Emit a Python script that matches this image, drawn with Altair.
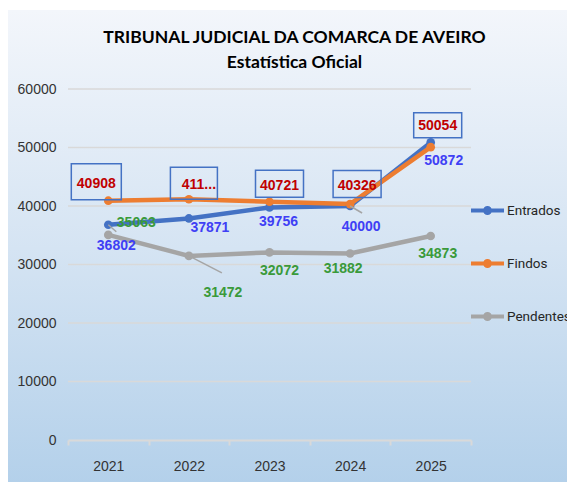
import altair as alt
import pandas as pd

# ---------------- data ----------------
YEARS = ["2021", "2022", "2023", "2024", "2025"]
SERIES = ["Entrados", "Findos", "Pendentes"]
ENTRADOS = [36802, 37871, 39756, 40000, 50872]
FINDOS = [40908, 41150, 40721, 40326, 50054]
PENDENTES = [35063, 31472, 32072, 31882, 34873]
FINDOS_TEXT = ["40908", "411...", "40721", "40326", "50054"]
Y_TICKS = [0, 10000, 20000, 30000, 40000, 50000, 60000]

# ---------------- styles ----------------
LINE_COLORS = ["#4472C4", "#ED7D31", "#A5A5A5"]
LABEL_COLORS = {"Entrados": "#3F3FF5", "Findos": "#C00000", "Pendentes": "#3A9A3A"}
BOX_COLOR = "#4472C4"
FONT = "Liberation Sans"
LEGEND_FONT = "Roboto"
TITLE_FONT = "Lato"

# label offsets (pixels) relative to each point
LABEL_OFFSETS = {
    "Entrados": [(8, 21), (21, 10), (9, 15), (11, 21), (13, 19)],
    "Findos": [(-12, -17), (10, -14), (10, -16), (7, -18), (7, -21)],
    "Pendentes": [(28, -12), (34, 37), (10, 19), (-7, 16), (7, 18)],
}
# boxes around Findos labels: dx, dy, w, h
BOXES = [(-12, -19, 50, 36), (5, -16, 47, 32), (10, -18, 48, 27), (7, -20, 48, 27), (7, -22, 48, 25)]
# leader lines: series, year index, dx, dy
LEADERS = [("Pendentes", 1, 33, 17), ("Entrados", 3, 12, 7), ("Entrados", 0, 8, 7)]

VALUES = {"Entrados": ENTRADOS, "Findos": FINDOS, "Pendentes": PENDENTES}
rows = []
for s in SERIES:
    for i, y in enumerate(YEARS):
        txt = FINDOS_TEXT[i] if s == "Findos" else str(VALUES[s][i])
        rows.append({"series": s, "year": y, "value": VALUES[s][i], "label": txt, "idx": i})
df = pd.DataFrame(rows)
grid_df = pd.DataFrame({"value": Y_TICKS})

W, H = 403, 351

x_scale = alt.Scale(type="band", domain=YEARS, paddingInner=0, paddingOuter=0)
y_scale = alt.Scale(domain=[0, 60000], nice=False, zero=True)
color_scale = alt.Scale(domain=SERIES, range=LINE_COLORS)

legend = alt.Legend(
    title=None, orient="none", legendX=401, legendY=103, padding=0,
    rowPadding=24, labelOffset=1, labelFont=LEGEND_FONT, labelFontSize=13.5,
    labelColor="#262626",
    symbolType="M-1,0L1,0M-0.15,0A0.15,0.15 0 1,0 0.15,0A0.15,0.15 0 1,0 -0.15,0",
    symbolSize=1089, symbolStrokeWidth=4,
)

bg = alt.Chart(alt.Data(values=[{}])).mark_rect(
    color=alt.LinearGradient(
        gradient="linear", x1=0, x2=0, y1=0, y2=1,
        stops=[alt.GradientStop(color="#F3F6FB", offset=0),
               alt.GradientStop(color="#D5E4F3", offset=0.5),
               alt.GradientStop(color="#B3D0EA", offset=1)]),
).encode(x=alt.value(-61), x2=alt.value(507), y=alt.value(-79), y2=alt.value(398))

grid = alt.Chart(grid_df).transform_filter("datum.value > 0").mark_rule(
    color="#D9D9D9", strokeWidth=1.5
).encode(
    y=alt.Y("value:Q", scale=y_scale, axis=alt.Axis(
        title=None, values=Y_TICKS, format="d", grid=False, domain=False, ticks=False,
        labelFont=FONT, labelFontSize=14, labelColor="#333333", labelPadding=12, zindex=1)),
)

base = alt.Chart(df)
xenc = alt.X("year:N", scale=x_scale, axis=alt.Axis(
    title=None, labelAngle=0, domainColor="#D9D9D9", domainWidth=2,
    tickColor="#D9D9D9", tickWidth=2, tickSize=5, tickBand="extent",
    labelFont=FONT, labelFontSize=14, labelColor="#333333", labelPadding=14,
    grid=False, zindex=1))
yenc = alt.Y("value:Q", scale=y_scale)

lines = base.mark_line(strokeWidth=4.5).encode(
    x=xenc, y=yenc,
    color=alt.Color("series:N", scale=color_scale, legend=legend),
    detail="series:N",
)
points = base.mark_point(filled=True, size=75, opacity=1).encode(
    x=xenc, y=yenc,
    color=alt.Color("series:N", scale=color_scale, legend=legend),
)

layers = [bg, grid, lines, points]

for s, i, dx, dy in LEADERS:
    r = (dx * dx + dy * dy) ** 0.5
    path = f"M0,0L{dx / r:.4f},{dy / r:.4f}"
    layers.append(
        base.transform_filter(f"datum.series == '{s}' && datum.idx == {i}")
        .mark_point(shape=path, size=(2 * r) ** 2, filled=False,
                    stroke="#A5A5A5", strokeWidth=1.5, opacity=1)
        .encode(x=xenc, y=yenc)
    )

for i, (dx, dy, w, h) in enumerate(BOXES):
    r = w / 2
    x0, x1 = (dx - w / 2) / r, (dx + w / 2) / r
    y0, y1 = (dy - h / 2) / r, (dy + h / 2) / r
    path = f"M{x0:.4f},{y0:.4f}L{x1:.4f},{y0:.4f}L{x1:.4f},{y1:.4f}L{x0:.4f},{y1:.4f}Z"
    layers.append(
        base.transform_filter(f"datum.series == 'Findos' && datum.idx == {i}")
        .mark_point(shape=path, size=w * w, filled=False,
                    stroke=BOX_COLOR, strokeWidth=1.5, opacity=1)
        .encode(x=xenc, y=yenc)
    )

for s in SERIES:
    for i, (dx, dy) in enumerate(LABEL_OFFSETS[s]):
        layers.append(
            base.transform_filter(f"datum.series == '{s}' && datum.idx == {i}")
            .mark_text(dx=dx, dy=dy, align="center", baseline="middle",
                       font=FONT, fontSize=14, fontWeight="bold",
                       color=LABEL_COLORS[s])
            .encode(x=xenc, y=yenc, text="label:N")
        )

chart = alt.layer(*layers).properties(
    width=W, height=H,
    autosize=alt.AutoSizeParams(type="none"),
    padding={"left": 60, "top": 81, "right": 96, "bottom": 42},
    title=alt.TitleParams(
        text="TRIBUNAL JUDICIAL DA COMARCA DE AVEIRO",
        subtitle="Estatística Oficial",
        anchor="middle", frame="group", dx=25, dy=73, offset=12,
        font=TITLE_FONT, fontSize=17.5, fontWeight="bold", color="#000000",
        subtitleFont=TITLE_FONT, subtitleFontSize=17.5, subtitleFontWeight="bold",
        subtitleColor="#000000", subtitlePadding=7,
    ),
).configure_view(stroke=None).configure(background="white")

chart.save("out.html", embed_options={"renderer": "svg", "actions": False})
